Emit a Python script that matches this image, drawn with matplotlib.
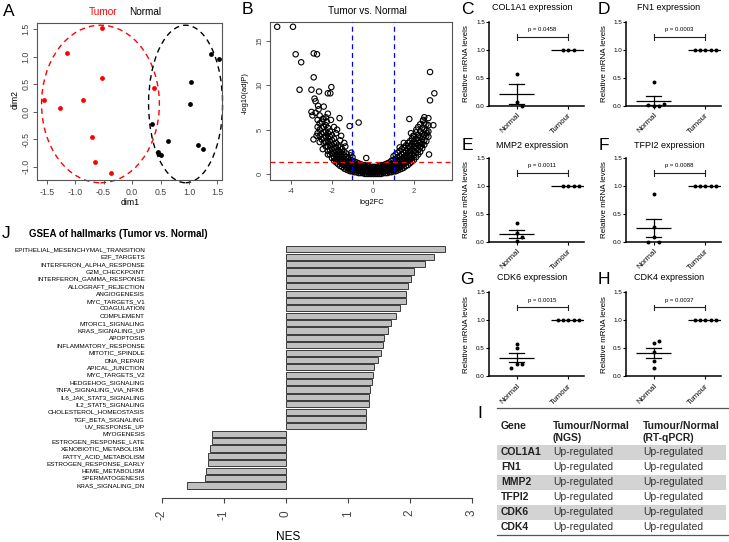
import matplotlib
matplotlib.use("Agg")
import matplotlib.pyplot as plt
from matplotlib.patches import Ellipse, Rectangle
import numpy as np

plt.rcParams["font.family"] = ["Liberation Sans", "DejaVu Sans"]
plt.rcParams["axes.unicode_minus"] = False

# ---------------- data ----------------
# A: sample clustering
tumor_dim1 = [-0.53, -1.15, -0.53, 0.39, -1.54, -0.86, -1.26, -0.71, -0.65, -0.37]
tumor_dim2 = [1.52, 1.07, 0.62, 0.43, 0.22, 0.22, 0.06, -0.46, -0.92, -1.12]
normal_dim1 = [1.39, 1.52, 1.04, 1.01, 0.35, 0.64, 0.45, 0.48, 0.51, 1.15, 1.24]
normal_dim2 = [1.05, 0.95, 0.53, 0.14, -0.23, -0.53, -0.73, -0.76, -0.78, -0.61, -0.67]

# B: volcano (sparse points)
vol_out_x = [-4.67, -3.90, -3.77, -3.50, -3.58, -2.89, -2.73, -2.89, -3.00, -2.63,
             -2.20, -2.08, -2.03, -2.85, -2.80, -2.68, -3.00, -2.80, -2.40, -2.20,
             -1.63, -0.70, -1.14, -0.33, -1.06,
             -2.95, -2.65, -2.45, -2.30, -2.25, -2.05, -1.90, -1.75, -1.55, -1.60,
             -1.40, -1.35, -2.75, -2.90, -2.60, -2.45, -2.20,
             2.78, 2.99, 2.78, 2.94, 1.77, 2.50, 2.43, 2.11, 2.73, 2.45,
             1.96, 2.26, 1.50, 1.30, 1.85, 2.30, 2.20, 2.45, 2.62, 2.35]
vol_out_y = [16.6, 16.6, 13.5, 12.6, 9.5, 13.6, 13.5, 10.9, 9.5, 9.3,
             9.1, 9.1, 9.8, 8.5, 8.2, 7.7, 7.0, 6.9, 7.6, 6.8,
             6.3, 5.8, 5.4, 1.8, 2.4,
             6.6, 7.3, 6.2, 6.4, 5.9, 6.1, 5.3, 5.0, 4.3, 3.8,
             3.5, 3.1, 4.3, 3.9, 3.6, 2.8, 2.2,
             11.5, 9.1, 8.3, 5.5, 6.2, 6.4, 6.0, 5.0, 2.2, 4.2,
             4.3, 3.5, 3.5, 3.0, 4.6, 5.6, 5.3, 6.1, 4.6, 3.2]
# B: dense band, (log2FC, [-log10 adjP values])
vol_band = [
    (-2.7, [4.6, 5.3, 6.1]), (-2.6, [4.3, 5.0, 5.7, 6.6]), (-2.5, [3.9, 4.5, 5.2, 5.9]),
    (-2.4, [3.5, 4.1, 4.7, 5.3, 6.2]), (-2.3, [3.1, 3.6, 4.2, 4.8, 5.5]),
    (-2.2, [2.6, 3.1, 3.6, 4.1, 4.6, 5.2]), (-2.1, [2.2, 2.7, 3.2, 3.7, 4.2, 4.8]),
    (-2.0, [1.8, 2.3, 2.8, 3.3, 3.8, 4.4]), (-1.9, [1.5, 1.9, 2.4, 2.9, 3.4, 4.0]),
    (-1.8, [1.3, 1.7, 2.1, 2.5, 3.0, 3.5, 4.6]), (-1.7, [1.1, 1.5, 1.9, 2.3, 2.7, 3.2]),
    (-1.6, [0.9, 1.3, 1.7, 2.1, 2.5, 3.0]), (-1.5, [0.8, 1.1, 1.5, 1.9, 2.3, 2.8]),
    (-1.4, [0.6, 1.0, 1.3, 1.7, 2.1, 2.5]), (-1.3, [0.5, 0.8, 1.2, 1.5, 1.9, 2.3]),
    (-1.2, [0.4, 0.7, 1.0, 1.4, 1.8]), (-1.1, [0.3, 0.6, 0.9, 1.2, 1.6, 2.1]),
    (-1.0, [0.3, 0.5, 0.8, 1.1, 1.5, 1.9]), (-0.9, [0.2, 0.5, 0.8, 1.1, 1.4]),
    (-0.8, [0.2, 0.4, 0.7, 1.0, 1.3]), (-0.7, [0.1, 0.4, 0.6, 0.9, 1.2]),
    (-0.6, [0.1, 0.3, 0.6, 0.9, 1.1]), (-0.5, [0.1, 0.3, 0.5, 0.8, 1.0]),
    (-0.4, [0.0, 0.2, 0.5, 0.7, 1.0]), (-0.3, [0.0, 0.2, 0.4, 0.7, 0.9]),
    (-0.2, [0.0, 0.2, 0.4, 0.6, 0.9]), (-0.1, [0.0, 0.2, 0.4, 0.6, 0.8]),
    (0.0, [0.0, 0.2, 0.4, 0.6, 0.8]), (0.1, [0.0, 0.2, 0.4, 0.6, 0.8]),
    (0.2, [0.0, 0.2, 0.4, 0.6, 0.8]), (0.3, [0.0, 0.2, 0.4, 0.7, 0.9]),
    (0.4, [0.0, 0.2, 0.5, 0.7, 1.0]), (0.5, [0.1, 0.3, 0.5, 0.8, 1.0]),
    (0.6, [0.1, 0.3, 0.6, 0.9, 1.1]), (0.7, [0.1, 0.4, 0.6, 0.9, 1.2]),
    (0.8, [0.2, 0.4, 0.7, 1.0, 1.3]), (0.9, [0.2, 0.5, 0.8, 1.1, 1.5]),
    (1.0, [0.3, 0.5, 0.8, 1.2, 1.6, 2.0]), (1.1, [0.3, 0.6, 0.9, 1.3, 1.7, 2.2]),
    (1.2, [0.4, 0.7, 1.1, 1.5, 1.9, 2.4]), (1.3, [0.5, 0.8, 1.2, 1.6, 2.0, 2.6]),
    (1.4, [0.6, 0.9, 1.3, 1.7, 2.2, 2.8]), (1.5, [0.7, 1.1, 1.5, 1.9, 2.4, 3.0]),
    (1.6, [0.9, 1.3, 1.7, 2.1, 2.6, 3.2]), (1.7, [1.0, 1.4, 1.9, 2.4, 2.9, 3.5]),
    (1.8, [1.2, 1.6, 2.1, 2.6, 3.1, 3.7]), (1.9, [1.4, 1.8, 2.3, 2.8, 3.4, 4.0]),
    (2.0, [1.6, 2.1, 2.6, 3.1, 3.7, 4.3]), (2.1, [1.9, 2.4, 2.9, 3.4, 4.0, 4.7]),
    (2.2, [2.2, 2.7, 3.2, 3.8, 4.4]), (2.3, [2.5, 3.0, 3.5, 4.1, 4.8]),
    (2.4, [2.9, 3.4, 3.9, 4.5, 5.2]), (2.5, [3.3, 3.8, 4.4, 5.0, 5.7]),
    (2.6, [3.7, 4.3, 4.9, 5.6]), (2.7, [4.2, 4.8, 5.5, 6.3]),
]
fc_cut = 1.0
p_cut = 1.3

# C-H: RT-qPCR relative mRNA levels
col1a1_normal = [0.565, 0.07, 0.0]
col1a1_tumour = [1.0, 1.0, 1.0]
fn1_normal = [0.42, 0.0, 0.0, 0.01, 0.03]
fn1_tumour = [1.0, 1.0, 1.0, 1.0, 1.0]
mmp2_normal = [0.33, 0.15, 0.08, 0.01]
mmp2_tumour = [1.0, 1.0, 1.0, 1.0]
tfpi2_normal = [0.85, 0.26, 0.08, 0.0, 0.0]
tfpi2_tumour = [1.0, 1.0, 1.0, 1.0, 1.0]
cdk6_normal = [0.585, 0.50, 0.22, 0.22, 0.15]
cdk6_tumour = [1.0, 1.0, 1.0, 1.0, 1.0]
cdk4_normal = [0.59, 0.63, 0.44, 0.27, 0.14]
cdk4_tumour = [1.0, 1.0, 1.0, 1.0, 1.0]
qpcr_genes = ["COL1A1", "FN1", "MMP2", "TFPI2", "CDK6", "CDK4"]
qpcr_letters = ["C", "D", "E", "F", "G", "H"]
qpcr_pvals = ["0.0458", "0.0003", "0.0011", "0.0088", "0.0015", "0.0037"]
groups = ["Normal", "Tumour"]

# I: table
table_header1 = ["Gene", "Tumour/Normal", "Tumour/Normal"]
table_header2 = ["", "(NGS)", "(RT-qPCR)"]
table_genes = ["COL1A1", "FN1", "MMP2", "TFPI2", "CDK6", "CDK4"]
table_ngs = ["Up-regulated"] * 6
table_qpcr = ["Up-regulated"] * 6

# J: GSEA hallmarks
hallmarks = [
    "EPITHELIAL_MESENCHYMAL_TRANSITION", "E2F_TARGETS", "INTERFERON_ALPHA_RESPONSE",
    "G2M_CHECKPOINT", "INTERFERON_GAMMA_RESPONSE", "ALLOGRAFT_REJECTION", "ANGIOGENESIS",
    "MYC_TARGETS_V1", "COAGULATION", "COMPLEMENT", "MTORC1_SIGNALING", "KRAS_SIGNALING_UP",
    "APOPTOSIS", "INFLAMMATORY_RESPONSE", "MITOTIC_SPINDLE", "DNA_REPAIR", "APICAL_JUNCTION",
    "MYC_TARGETS_V2", "HEDGEHOG_SIGNALING", "TNFA_SIGNALING_VIA_NFKB", "IL6_JAK_STAT3_SIGNALING",
    "IL2_STAT5_SIGNALING", "CHOLESTEROL_HOMEOSTASIS", "TGF_BETA_SIGNALING", "UV_RESPONSE_UP",
    "MYOGENESIS", "ESTROGEN_RESPONSE_LATE", "XENOBIOTIC_METABOLISM", "FATTY_ACID_METABOLISM",
    "ESTROGEN_RESPONSE_EARLY", "HEME_METABOLISM", "SPERMATOGENESIS", "KRAS_SIGNALING_DN",
]
nes = [2.56, 2.39, 2.25, 2.06, 2.02, 1.97, 1.94, 1.93, 1.84, 1.77, 1.70, 1.65, 1.59,
       1.56, 1.53, 1.49, 1.42, 1.40, 1.39, 1.35, 1.34, 1.34, 1.30, 1.29, 1.29,
       -1.19, -1.19, -1.22, -1.25, -1.26, -1.29, -1.30, -1.60]

# ---------------- layout helpers ----------------
W, H = 729, 542
fig = plt.figure(figsize=(W / 100, H / 100), dpi=100)


def rect(l, t, r, b):
    return [l / W, 1 - b / H, (r - l) / W, (b - t) / H]


def ftext(x, y, s, **kw):
    kw.setdefault("ha", "center")
    kw.setdefault("va", "center")
    fig.text(x / W, 1 - y / H, s, **kw)


def letter(x, y, s):
    ftext(x, y, s, fontsize=12.5)


def r_box(ax):
    for sp in ax.spines.values():
        sp.set_color("#555555")
        sp.set_linewidth(0.8)
    ax.tick_params(direction="out", length=3, width=0.6, colors="#444444")


# ---------------- A ----------------
axA = fig.add_axes(rect(37, 23, 222, 180))
axA.scatter(tumor_dim1, tumor_dim2, s=12, c="red", lw=0, zorder=3)
axA.scatter(normal_dim1, normal_dim2, s=12, c="black", lw=0, zorder=3)
axA.add_patch(Ellipse((-0.555, 0.14), 2.07, 2.86, fill=False, ec="red",
                      ls=(0, (4, 3)), lw=1.0, clip_on=False))
axA.add_patch(Ellipse((0.94, 0.14), 1.30, 2.86, fill=False, ec="black",
                      ls=(0, (4, 3)), lw=1.0, clip_on=False))
axA.set_xlim(-1.67, 1.58)
axA.set_ylim(-1.24, 1.61)
axA.set_xticks([-1.5, -1.0, -0.5, 0.0, 0.5, 1.0, 1.5])
axA.set_yticks([-1.0, -0.5, 0.0, 0.5, 1.0, 1.5])
axA.set_xticklabels([f"{v:.1f}" for v in axA.get_xticks()], fontsize=6.3)
axA.set_yticklabels([f"{v:.1f}" for v in axA.get_yticks()], fontsize=6.3,
                    rotation=90, va="center")
r_box(axA)
axA.tick_params(axis="x", pad=3)
axA.tick_params(axis="y", pad=1.5)
ftext(130, 203, "dim1", fontsize=6.3)
ftext(15, 100, "dim2", fontsize=6.3, rotation=90)
ftext(103, 12, "Tumor", fontsize=7.2, color="red")
ftext(145, 12, "Normal", fontsize=7.2, color="black")
letter(9, 11, "A")

# ---------------- B ----------------
axB = fig.add_axes(rect(270, 22, 452, 180))
bx = [x for x, ys in vol_band for _ in ys] + vol_out_x
by = [y for _, ys in vol_band for y in ys] + vol_out_y
axB.scatter(bx, by, s=15, facecolors="none", edgecolors="black", lw=0.8, zorder=2)
axB.axvline(-fc_cut, color="blue", ls=(0, (4, 3)), lw=0.9, zorder=3)
axB.axvline(fc_cut, color="blue", ls=(0, (4, 3)), lw=0.9, zorder=3)
axB.axhline(p_cut, color="red", ls=(0, (4, 3)), lw=0.9, zorder=3)
axB.set_xlim(-5.02, 3.85)
axB.set_ylim(-0.68, 17.14)
axB.set_xticks([-4, -2, 0, 2])
axB.set_yticks([0, 5, 10, 15])
axB.set_xticklabels(["-4", "-2", "0", "2"], fontsize=5.5)
axB.set_yticklabels(["0", "5", "10", "15"], fontsize=5.5, rotation=90, va="center")
r_box(axB)
axB.tick_params(axis="x", pad=3)
axB.tick_params(axis="y", pad=1.5)
ftext(367, 11, "Tumor vs. Normal", fontsize=7.2)
ftext(372, 203, "log2FC", fontsize=5.5)
ftext(245, 93, "-log10(adjP)", fontsize=5.5, rotation=90)
letter(247, 9, "B")


# ---------------- C-H ----------------
def swarm(vals, step=0.1, dxp=51.6, dyp=56.0, d=4.5):
    placed = []
    offs = []
    for v in vals:
        k = 0
        while True:
            o = ((k + 1) // 2) * step * (1 if k % 2 == 1 else -1)
            if all(abs(v - pv) * dyp >= d or abs(o - po) * dxp >= d for po, pv in placed):
                break
            k += 1
        placed.append((o, v))
        offs.append(o)
    return np.array(offs)


def dot_panel(ax, normal, tumour, pval):
    ax.set_xlim(-0.53, 1.30)
    ax.set_ylim(0, 1.5)
    for xc, vals in ((0, normal), (1, tumour)):
        vals = np.array(vals)
        ax.scatter(xc + swarm(vals), vals, s=8, c="black", lw=0, zorder=4, clip_on=False)
        m = vals.mean()
        se = vals.std(ddof=1) / np.sqrt(len(vals))
        ax.plot([xc - 0.33, xc + 0.33], [m, m], color="black", lw=0.9, zorder=3,
                solid_capstyle="butt")
        if se > 0:
            ax.plot([xc, xc], [m - se, m + se], color="black", lw=0.9, zorder=3)
            for yy in (m - se, m + se):
                ax.plot([xc - 0.15, xc + 0.15], [yy, yy], color="black", lw=0.9, zorder=3)
    yb = 1.23
    ax.plot([0, 1], [yb, yb], color="#222222", lw=0.8, clip_on=False)
    for xe in (0, 1):
        ax.plot([xe, xe], [yb - 0.05, yb + 0.05], color="#222222", lw=0.8, clip_on=False)
    ax.text(0.5, 1.36, f"p = {pval}", fontsize=4.3, ha="center", va="center")
    for s in ("top", "right"):
        ax.spines[s].set_visible(False)
    for s in ("left", "bottom"):
        ax.spines[s].set_linewidth(1.1)
    ax.set_yticks([0, 0.5, 1.0, 1.5])
    ax.set_yticklabels(["0.0", "0.5", "1.0", "1.5"], fontsize=4.5)
    ax.set_xticks([0, 1])
    ax.set_xticklabels(groups, fontsize=5.6, rotation=45, ha="right",
                       rotation_mode="anchor")
    ax.tick_params(axis="y", length=2, width=0.8, pad=1)
    ax.tick_params(axis="x", length=2.5, width=0.8, pad=2)


qpcr_normal = [col1a1_normal, fn1_normal, mmp2_normal, tfpi2_normal, cdk6_normal, cdk4_normal]
qpcr_tumour = [col1a1_tumour, fn1_tumour, mmp2_tumour, tfpi2_tumour, cdk6_tumour, cdk4_tumour]
col_left = [489, 626]
row_base = [105.7, 241.7, 376.3]
title_y = [8, 145, 278]
for i, g in enumerate(qpcr_genes):
    r, c = divmod(i, 2)
    l = col_left[c]
    b = row_base[r]
    ax = fig.add_axes(rect(l, b - 84, l + 95, b))
    ax.patch.set_visible(False)
    dot_panel(ax, qpcr_normal[i], qpcr_tumour[i], qpcr_pvals[i])
    ftext(l + 43, title_y[r], f"{g} expression", fontsize=6.5)
    ftext(l - 22, b - 42, "Relative mRNA levels", fontsize=5.8, rotation=90)
    letter(l - 22, title_y[r] + 1, qpcr_letters[i])

# ---------------- I ----------------
axT = fig.add_axes([0, 0, 1, 1])
axT.set_xlim(0, W)
axT.set_ylim(H, 0)
axT.axis("off")
col_x = [501, 553, 643]
axT.plot([497, 729], [408.3, 408.3], color="#555555", lw=0.9)
for x, h1, h2 in zip(col_x, table_header1, table_header2):
    axT.text(x, 425.7, h1, fontsize=7.5, fontweight="bold", va="center", color="#222222")
    axT.text(x, 438.3, h2, fontsize=7.5, fontweight="bold", va="center", color="#222222")
for i, (g, a, q) in enumerate(zip(table_genes, table_ngs, table_qpcr)):
    yc = 452.3 + 15 * i
    if i % 2 == 0:
        axT.add_patch(Rectangle((497, yc - 7.5), 229, 15, color="#d3d3d3", lw=0, zorder=0))
    axT.text(col_x[0], yc, g, fontsize=7.5, fontweight="bold", va="center", color="#222222")
    axT.text(col_x[1], yc, a, fontsize=7.5, va="center", color="#333333")
    axT.text(col_x[2], yc, q, fontsize=7.5, va="center", color="#333333")
axT.plot([497, 729], [535, 535], color="#555555", lw=0.9)
letter(480, 413, "I")

# ---------------- J ----------------
axJ = fig.add_axes(rect(150, 240, 480, 498))
axJ.patch.set_visible(False)
yy = np.arange(len(hallmarks))
axJ.barh(yy, nes, height=0.83, color="#c0c0c0", edgecolor="#3a3a3a", lw=0.7)
axJ.set_xlim(-2.19, 3.13)
axJ.set_ylim(33.7, -1.26)
axJ.set_yticks(yy)
axJ.set_yticklabels(hallmarks, fontsize=4.6)
axJ.tick_params(axis="y", length=0, pad=3.6)
for s in ("top", "right", "left"):
    axJ.spines[s].set_visible(False)
axJ.spines["bottom"].set_bounds(-2, 3)
axJ.spines["bottom"].set_color("#444444")
axJ.set_xticks([-2, -1, 0, 1, 2, 3])
axJ.set_xticklabels(["-2", "-1", "0", "1", "2", "3"], fontsize=8.5, rotation=90)
axJ.tick_params(axis="x", length=3.6, width=0.8, colors="#444444", pad=5)
ftext(288, 537, "NES", fontsize=8.5)
ftext(29, 234, "GSEA of hallmarks (Tumor vs. Normal)", fontsize=7, fontweight="bold",
      ha="left")
letter(6, 234, "J")

fig.savefig("out.png", dpi=100)
